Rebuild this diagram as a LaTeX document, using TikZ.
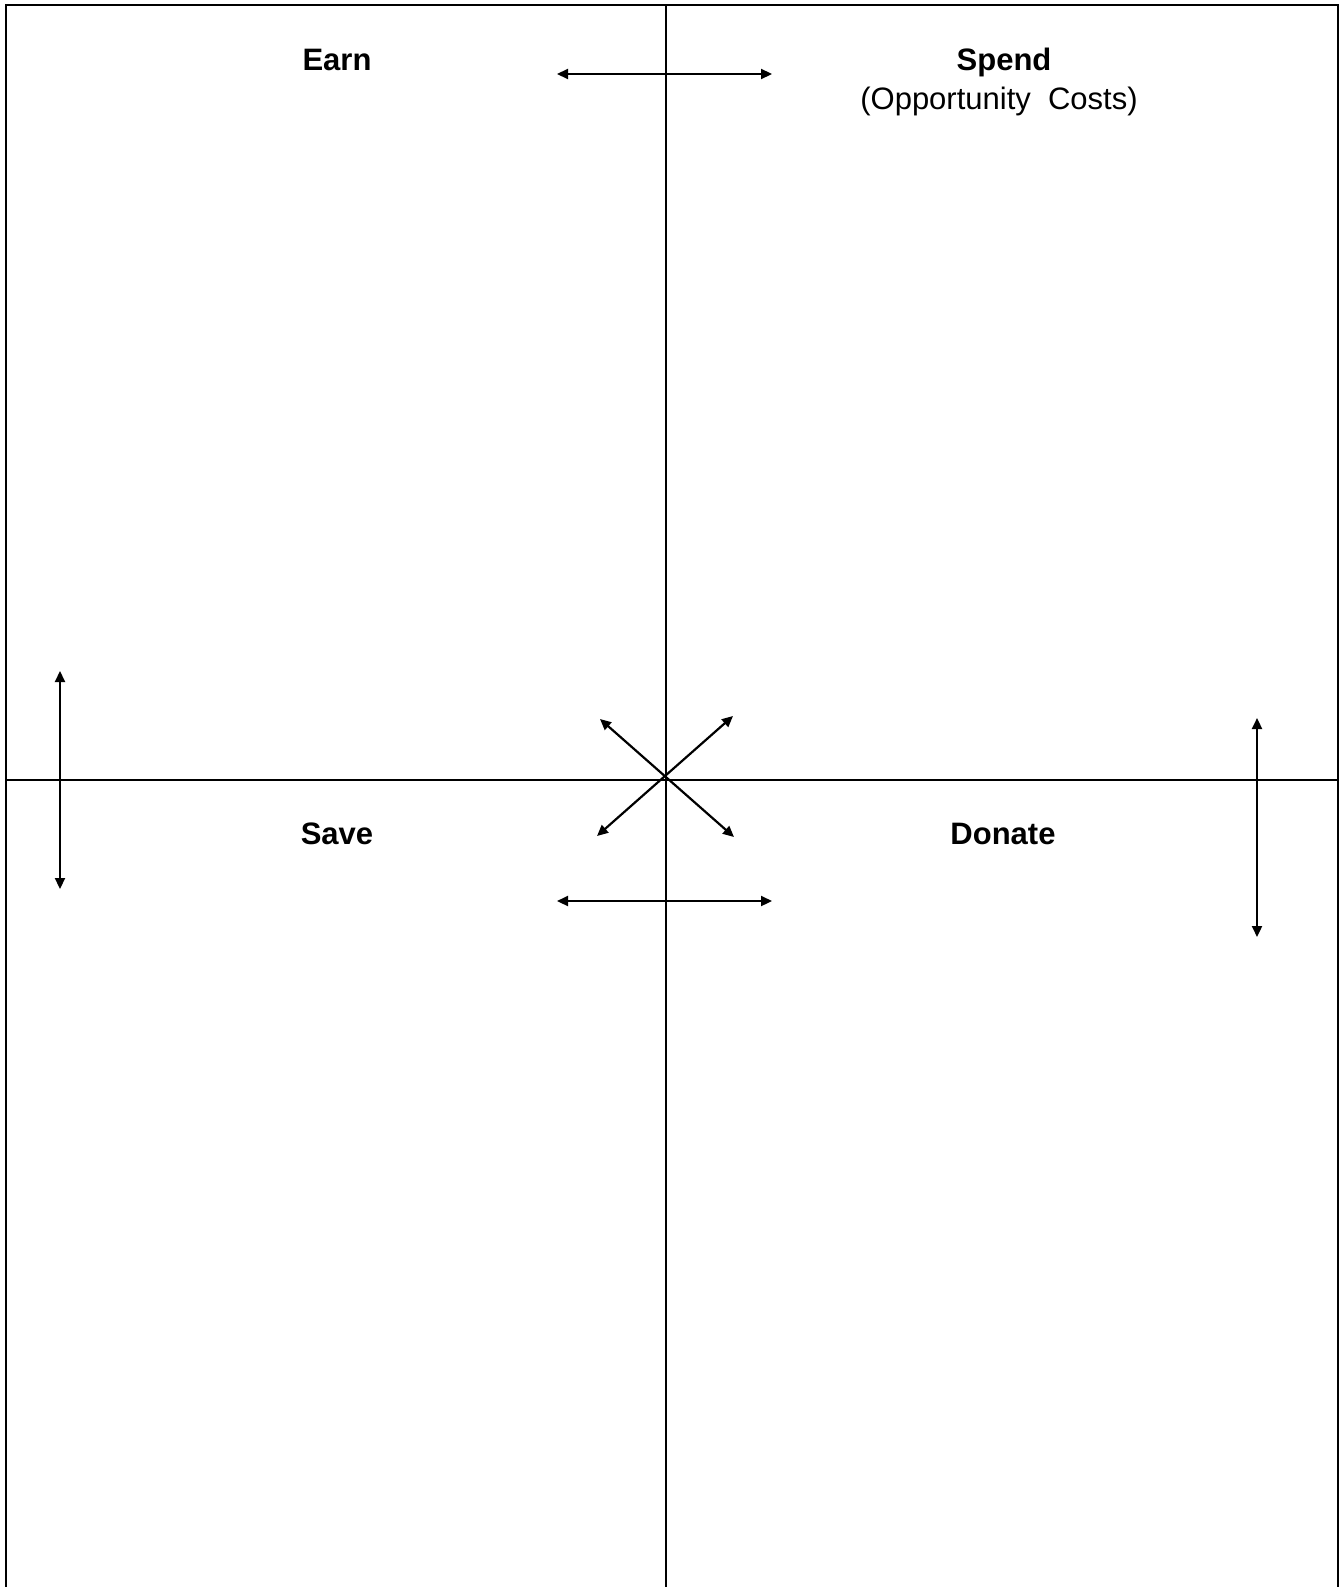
\documentclass[tikz,border=0pt]{standalone}
\usepackage{fontspec}
\setmainfont{Liberation Sans}
\usetikzlibrary{arrows.meta}
\begin{document}
\begin{tikzpicture}[x=1pt,y=-1pt,
  frame/.style={line width=2.4pt},
  divider/.style={line width=1.6pt},
  dblarrow/.style={line width=2.2pt,{Triangle[length=11pt,width=10pt]}-{Triangle[length=11pt,width=10pt]}},
  head/.style={font=\fontsize{31}{36}\selectfont\bfseries, inner sep=0pt, anchor=center},
  sub/.style={font=\fontsize{31}{36}\selectfont, inner sep=0pt, anchor=center}]
\useasboundingbox (0,0) rectangle (1341,1587);
% frame (open at the bottom)
\draw[frame] (6,1600) -- (6,5) -- (1338,5) -- (1338,1600);
% dividers
\draw[divider] (666,5) -- (666,1600);
\draw[divider] (6,780) -- (1338,780);
% labels
\node[head] (earn) at (337,60) {Earn};
\node[head] (spend) at (1004,62) {Spend};
\node[sub] (opp) at (999,101) {(Opportunity\ \ Costs)};
\node[head] (save) at (337,834) {Save};
\node[head] (donate) at (1003,834) {Donate};
% arrow end points
\coordinate (t1) at (557,74);  \coordinate (t2) at (772,74);
\coordinate (b1) at (557,901); \coordinate (b2) at (772,901);
\coordinate (l1) at (60,671);  \coordinate (l2) at (60,889);
\coordinate (r1) at (1257,718); \coordinate (r2) at (1257,937);
\coordinate (xul) at (600,719); \coordinate (xlr) at (734,837);
\coordinate (xur) at (733,716); \coordinate (xll) at (597,836);
% arrows
\draw[dblarrow] (t1) -- (t2);
\draw[dblarrow] (b1) -- (b2);
\draw[dblarrow] (l1) -- (l2);
\draw[dblarrow] (r1) -- (r2);
\draw[dblarrow] (xul) -- (xlr);
\draw[dblarrow] (xur) -- (xll);
\end{tikzpicture}
\end{document}
